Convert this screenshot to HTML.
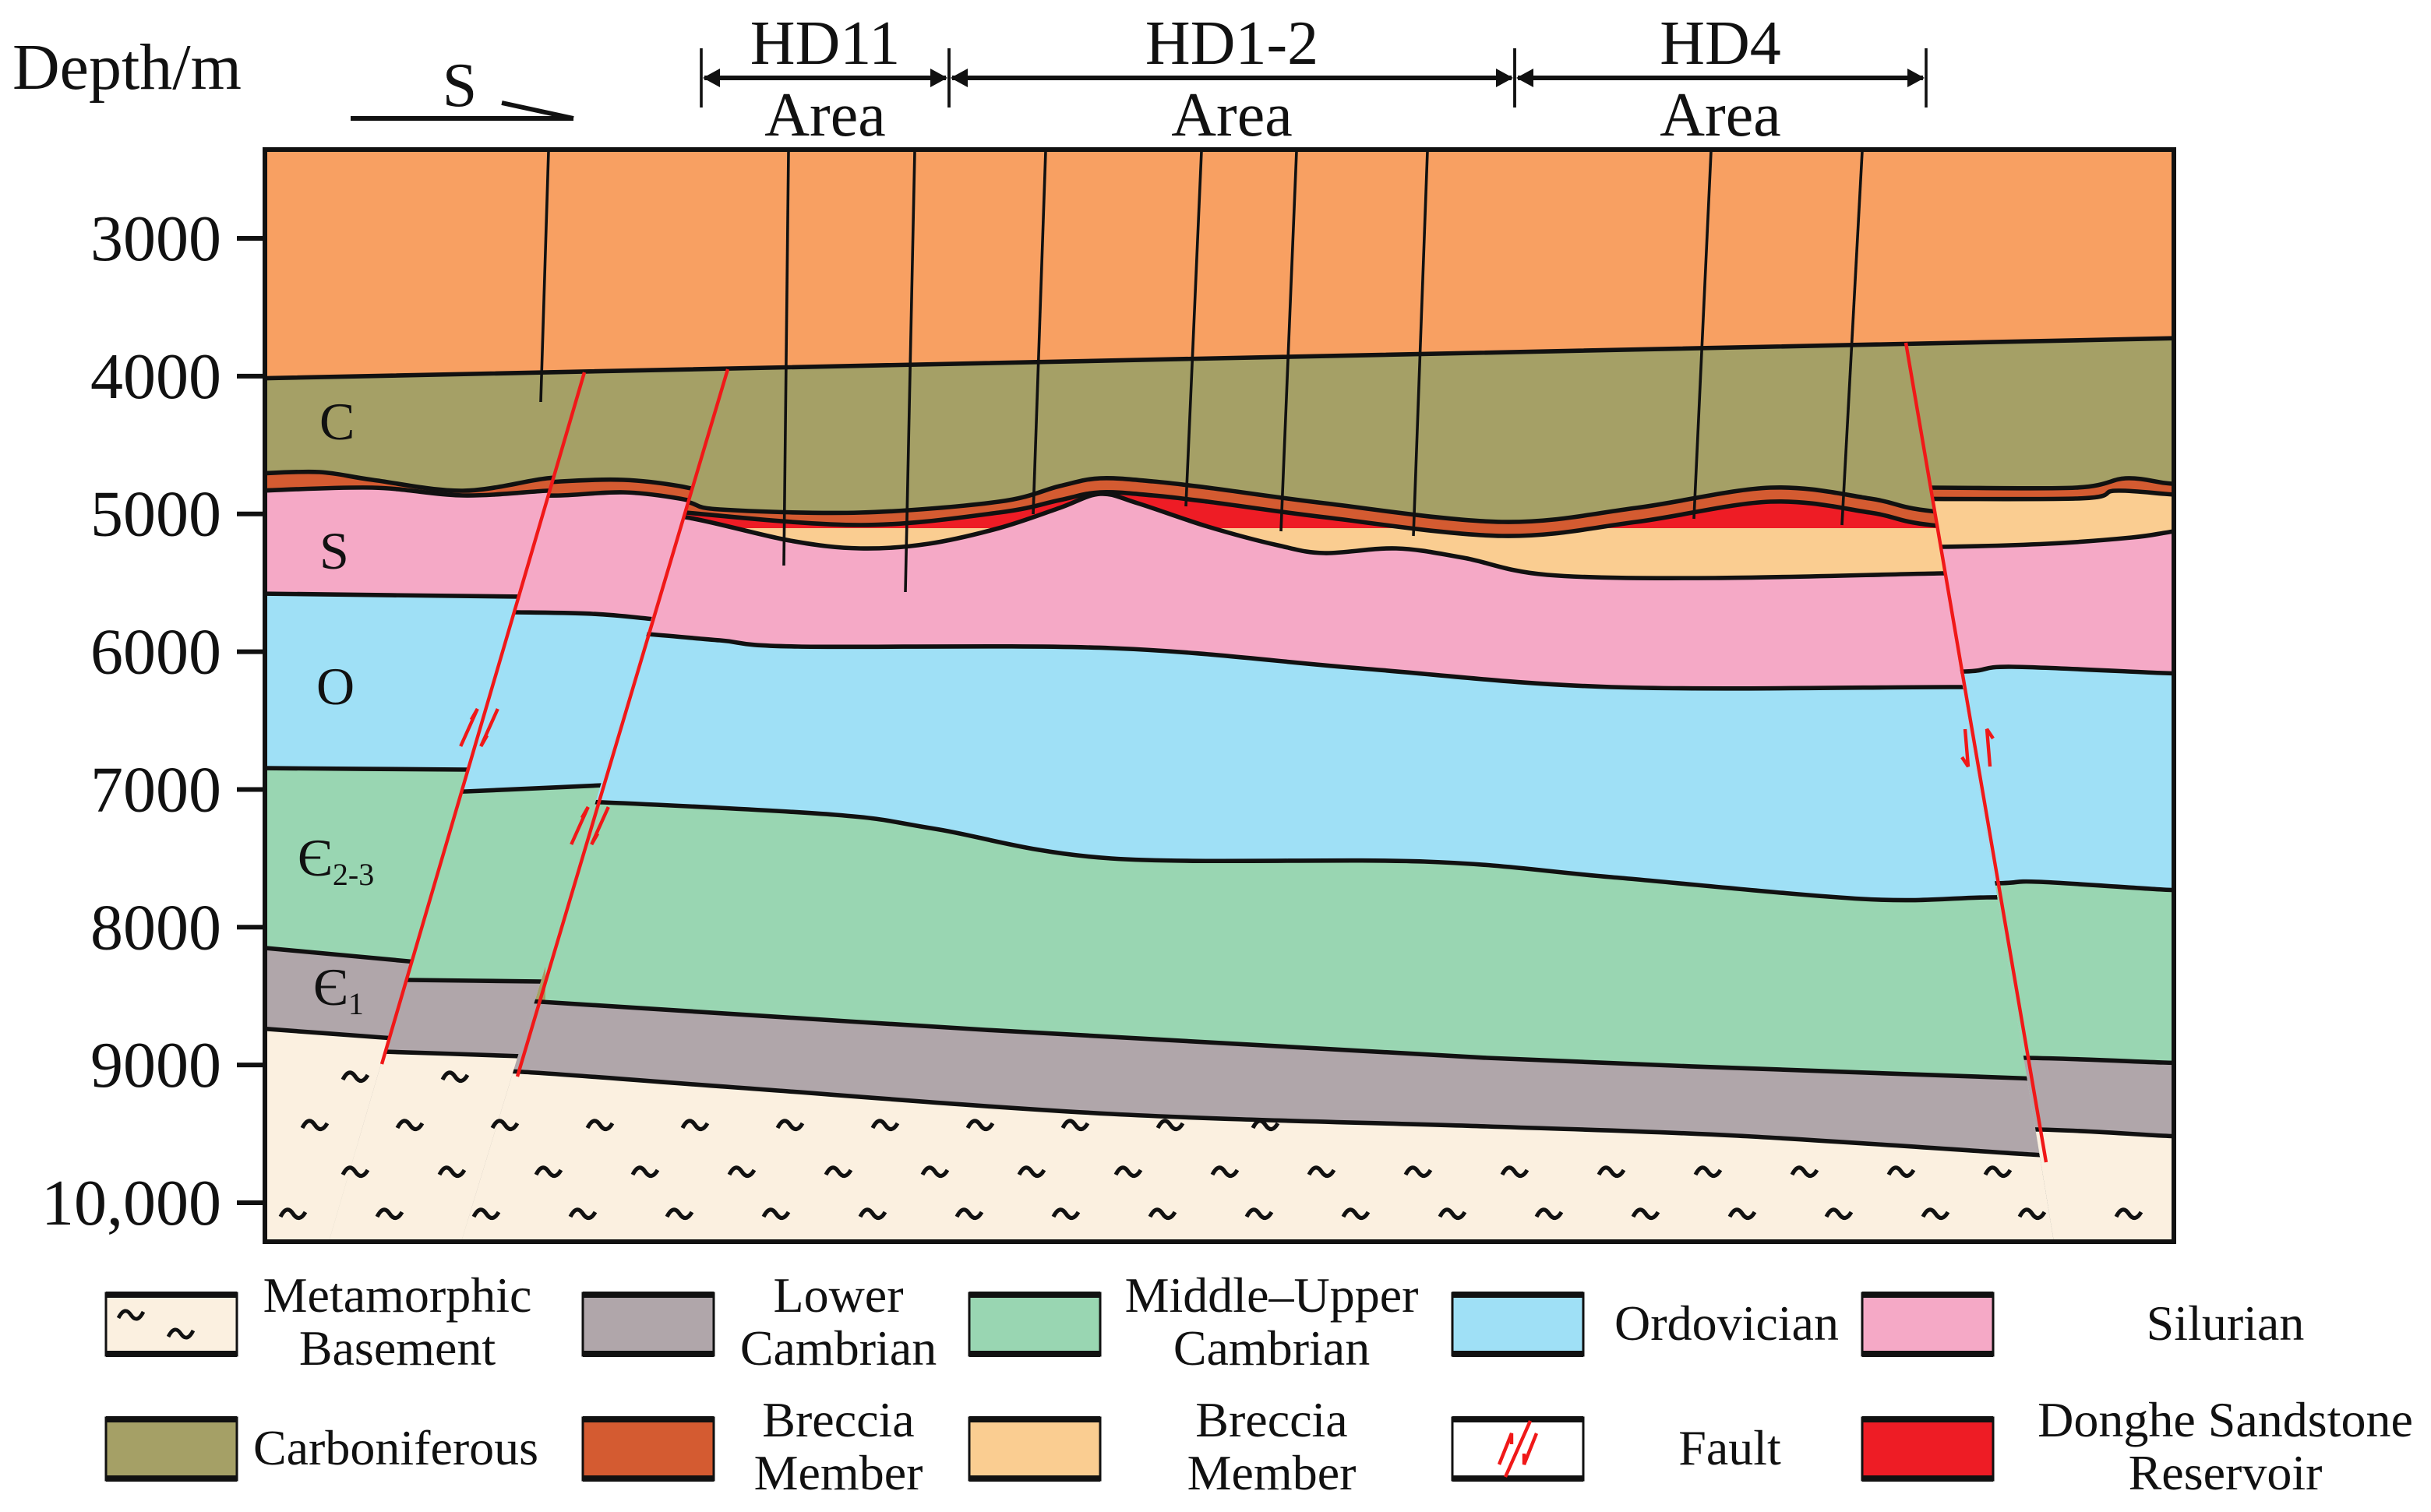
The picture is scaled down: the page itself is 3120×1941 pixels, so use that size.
<!DOCTYPE html>
<html><head><meta charset="utf-8"><style>
html,body{margin:0;padding:0;background:#fff;}
svg{display:block;}
text{font-family:"Liberation Serif",serif;fill:#111;}
</style></head><body>
<svg id="fig" width="3120" height="1941" viewBox="0 0 1560 970.5" xmlns="http://www.w3.org/2000/svg">
<defs>
<clipPath id="frameClip"><rect x="170" y="96" width="1225" height="701"/></clipPath>
<clipPath id="clipL"><polygon points="170,96 417,96 211,797 170,797"/></clipPath>
<clipPath id="clipM"><polygon points="417,96 510,96 296,797 211,797"/></clipPath>
<clipPath id="clipMain"><polygon points="510,96 1203,96 1318,797 296,797"/></clipPath>
<clipPath id="clipR"><polygon points="1203,96 1395,96 1395,797 1318,797"/></clipPath>
<clipPath id="redClip"><rect x="0" y="0" width="1560" height="339"/></clipPath>
</defs>
<g id="layers" clip-path="url(#frameClip)"></g>
<g id="overlay"></g>
<rect x="170" y="96" width="1225" height="701" fill="none" stroke="#111" stroke-width="3"/>
<g id="axis"></g>
<text x="8" y="57" font-size="42">Depth/m</text>
<g>
<text x="295" y="68" font-size="40" text-anchor="middle">S</text>
<line x1="225" y1="76" x2="368" y2="76" stroke="#111" stroke-width="3"/>
<line x1="322" y1="66" x2="368" y2="76" stroke="#111" stroke-width="3"/>
</g>
<g id="areas"></g>
<g font-size="34">
<text x="205" y="282">C</text>
<text x="205" y="365">S</text>
<text x="203" y="452">O</text>
<text x="191" y="562">Є<tspan font-size="20" dy="6">2-3</tspan></text>
<text x="201" y="645">Є<tspan font-size="20" dy="6">1</tspan></text>
</g>
<g id="legend"></g>
</svg>
<script>
// depth axis
const depthTicks = [3000,4000,5000,6000,7000,8000,9000,10000];
const depthLabels = ["3000","4000","5000","6000","7000","8000","9000","10,000"];
// well tops x, bottoms x, bottom y (depth px)
const wellTopX = [352,506,587,671,771,832,916,1098,1195];
const wellBotX = [347,503,581,663,761,822,907,1087,1182];
const wellBotY = [258,363,380,330,325,341,344,333,337];
const areaNames = ["HD11","HD1-2","HD4"];
const areaStart = [450,609,972];
const areaEnd = [609,972,1236];

const NS="http://www.w3.org/2000/svg";
function yOf(d){ return 153 + (d-3000)*0.08843; }
function mk(tag, attrs, parent){ const e=document.createElementNS(NS,tag); for(const k in attrs) e.setAttribute(k,attrs[k]); if(parent) parent.appendChild(e); return e; }
function smooth(pts){
  let d="M"+pts[0][0]+","+pts[0][1];
  for(let i=0;i<pts.length-1;i++){
    const p0=pts[Math.max(0,i-1)],p1=pts[i],p2=pts[i+1],p3=pts[Math.min(pts.length-1,i+2)];
    const c1=[p1[0]+(p2[0]-p0[0])/6,p1[1]+(p2[1]-p0[1])/6];
    const c2=[p2[0]-(p3[0]-p1[0])/6,p2[1]-(p3[1]-p1[1])/6];
    d+=" C"+c1[0].toFixed(1)+","+c1[1].toFixed(1)+" "+c2[0].toFixed(1)+","+c2[1].toFixed(1)+" "+p2[0]+","+p2[1];
  }
  return d;
}
function fillBelow(pts){ const l=pts[pts.length-1], f=pts[0]; return smooth(pts)+" L"+l[0]+",820 L"+f[0]+",820 Z"; }

const COL = {orange:"#F8A062", olive:"#A5A066", brec:"#D45B31", tan:"#FACD91", red:"#EE1C25", pink:"#F5A9C6", blue:"#9FE0F6", green:"#99D6B2", grey:"#B0A6AA", cream:"#FBF0E0"};

const layers=document.getElementById('layers');
const bg=mk('rect',{x:170,y:96,width:1225,height:701,fill:COL.orange},layers);


const cTop=[[160,243],[1400,217]];

const blocks = {
 L:[
  ["c-base",[[165,304],[205,303],[239,308],[297,315],[351,307],[380,306]],COL.brec],
  ["breccia-base",[[165,315],[239,313],[297,318],[351,315],[380,314]],COL.pink],
  ["s-base",[[165,381],[335,383],[360,383]],COL.blue],
  ["o-base",[[165,493],[300,494],[320,494]],COL.green],
  ["e23-base",[[165,608],[262,617],[290,620]],COL.grey],
  ["e1-base",[[165,660],[246,666],[270,668]],COL.cream]],
 M:[
  ["c-base",[[330,312],[360,309],[400,308],[436,312],[470,320]],COL.brec],
  ["breccia-base",[[330,318],[360,318],[400,316],[436,320],[470,328]],COL.pink],
  ["s-base",[[290,393],[331,393],[380,394],[415,397],[440,400]],COL.blue],
  ["o-base",[[260,508],[299,508],[387,504],[410,504]],COL.green],
  ["e23-base",[[230,629],[262,629],[347,630],[380,630]],COL.grey],
  ["e1-base",[[200,675],[246,675],[335,678],[360,678]],COL.cream]],
 Main:[
  ["c-base",[[400,316],[440,322],[462,327],[552,329],[641,322],[680,312],[706,307],[740,309],[775,313],[850,323],[964,335],[1050,326],[1136,313],[1200,320],[1239,328],[1330,334]],COL.brec],
  ["breccia-base",[[400,324],[440,329],[552,337],[641,329],[680,321],[706,316],[740,318],[775,322],[850,332],[964,344],[1050,335],[1136,322],[1200,329],[1239,337],[1330,343]],COL.tan],
  ["s-top",[[400,330],[440,332],[507,347],[552,352],[596,349],[641,339],[680,326],[706,317],[730,323],[775,338],[820,350],[850,355],[896,352],[939,358],[993,369],[1100,371],[1246,368],[1330,367]],COL.pink],
  ["s-base",[[380,405],[415,407],[462,411],[512,415],[713,416],[873,429],[1034,441],[1251,441],[1330,441]],COL.blue],
  ["o-base",[[350,515],[387,515],[536,523],[600,532],[713,551],[914,553],[1034,563],[1195,577],[1275,576],[1330,576]],COL.green],
  ["e23-base",[[300,643],[347,643],[632,661],[954,679],[1295,692],[1330,693]],COL.grey],
  ["e1-base",[[290,688],[335,688],[472,698],[713,715],[954,723],[1115,729],[1303,741],[1330,742]],COL.cream]],
 R:[
  ["c-base",[[1190,313],[1239,313],[1332,313],[1364,307],[1389,310],[1400,311]],COL.brec],
  ["breccia-base",[[1190,320],[1332,320],[1357,315],[1389,317],[1400,318]],COL.tan],
  ["s-top",[[1190,351],[1246,351],[1314,349],[1368,345],[1389,342],[1400,340]],COL.pink],
  ["s-base",[[1190,431],[1261,431],[1291,428],[1388,432],[1400,432]],COL.blue],
  ["o-base",[[1190,567],[1279,567],[1308,566],[1388,571],[1400,571]],COL.green],
  ["e23-base",[[1190,679],[1300,679],[1388,682],[1400,682]],COL.grey],
  ["e1-base",[[1190,725],[1308,725],[1388,729],[1400,729]],COL.cream]]
};
const ct=mk('path',{d:fillBelow(cTop),fill:COL.olive},layers);


const clipIds={L:'clipL',M:'clipM',Main:'clipMain',R:'clipR'};
for(const b in blocks){
  const g=mk('g',{'clip-path':'url(#'+clipIds[b]+')'},layers);
  
  
  const arr=blocks[b];
  arr.forEach(([nm,pts,col])=>{
    const p=mk('path',{d:fillBelow(pts),fill:col},g);
    
    
    if(b==='Main' && nm==='breccia-base'){
      const r=mk('path',{d:fillBelow(pts),fill:COL.red,'clip-path':'url(#redClip)'},g);
      
      
    }
  });
  arr.forEach(([nm,pts])=>{
    const s=mk('path',{d:smooth(pts),fill:'none',stroke:'#111','stroke-width':2.8},g);
    
    
  });
}
const ctl=mk('path',{d:smooth(cTop),fill:'none',stroke:'#111','stroke-width':2.8},layers);



const sq=mk('g',{fill:'none',stroke:'#111','stroke-width':2.6},layers);


function squig(x,y){ mk('path',{d:`M${x-8},${y+2} Q${x-4},${y-6} ${x},${y} T${x+8},${y-1}`},sq); }
[228,292].forEach(x=>squig(x,691));
for(let x=202;x<=815;x+=61) squig(x,722);
for(let x=228;x<=1342;x+=62) squig(x,752);
for(let x=188;x<=1385;x+=62) squig(x,779);

const ov=document.getElementById('overlay');
wellTopX.forEach((tx,i)=>{
  const l=mk('line',{x1:tx,y1:97,x2:wellBotX[i],y2:wellBotY[i],stroke:'#111','stroke-width':1.8},ov);
  
  
});
[[375,239,245,683],[467,237,332,691],[1223,220,1313,746]].forEach((f,i)=>{
  const l=mk('line',{x1:f[0],y1:f[1],x2:f[2],y2:f[3],stroke:'#F01818','stroke-width':2.2},ov);
  
  
});
function arrowPair(x,y,s){
  const g=mk('g',{stroke:'#F01818','stroke-width':2.2,fill:'none'},ov);
  
  
  mk('path',{d:`M${x-6-12*s},${y+12} L${x-6+12*s},${y-12} L${x-10+12*s},${y-5}`},g);
  mk('path',{d:`M${x+7+12*s},${y-12} L${x+7-12*s},${y+12} L${x+11-12*s},${y+5}`},g);
}
arrowPair(307,467,0.45);
arrowPair(378,530,0.45);
(function(){
  const g=mk('g',{stroke:'#F01818','stroke-width':2.2,fill:'none'},ov);
  
  
  mk('path',{d:'M1261,468 L1263,492 L1259,486'},g);
  mk('path',{d:'M1277,492 L1275,468 L1279,474'},g);
})();

const ax=document.getElementById('axis');
depthTicks.forEach((d,i)=>{
  const y=yOf(d);
  const t=mk('line',{x1:152,y1:y,x2:170,y2:y,stroke:'#111','stroke-width':3},ax);
  
  
  const tx=mk('text',{x:142,y:y+14,'font-size':42,'text-anchor':'end'},ax);
  tx.textContent=depthLabels[i];
  
  
});

const ar=document.getElementById('areas');
areaNames.forEach((n,i)=>{
  const g=mk('g',{},ar);
  
  
  const a=areaStart[i], b=areaEnd[i], y=50;
  mk('line',{x1:a+2,y1:y,x2:b-2,y2:y,stroke:'#111','stroke-width':3},g);
  mk('polygon',{points:`${a+1},${y} ${a+12},${y-6} ${a+12},${y+6}`,fill:'#111'},g);
  mk('polygon',{points:`${b-1},${y} ${b-12},${y-6} ${b-12},${y+6}`,fill:'#111'},g);
  mk('line',{x1:a,y1:31,x2:a,y2:69,stroke:'#111','stroke-width':1.8},g);
  mk('line',{x1:b,y1:31,x2:b,y2:69,stroke:'#111','stroke-width':1.8},g);
  const t1=mk('text',{x:(a+b)/2,y:41,'font-size':40,'text-anchor':'middle'},g); t1.textContent=n;
  const t2=mk('text',{x:(a+b)/2,y:87,'font-size':40,'text-anchor':'middle'},g); t2.textContent='Area';
});

const lg=document.getElementById('legend');
const legendItems=[
 [68,830,COL.cream,["Metamorphic","Basement"],255,"basement"],
 [374,830,COL.grey,["Lower","Cambrian"],538,"lower-cambrian"],
 [622,830,COL.green,["Middle–Upper","Cambrian"],816,"middle-upper-cambrian"],
 [932,830,COL.blue,["Ordovician"],1108,"ordovician"],
 [1195,830,COL.pink,["Silurian"],1428,"silurian"],
 [68,910,COL.olive,["Carboniferous"],254,"carboniferous"],
 [374,910,COL.brec,["Breccia","Member"],538,"breccia-member-1"],
 [622,910,COL.tan,["Breccia","Member"],816,"breccia-member-2"],
 [932,910,"#fff",["Fault"],1110,"fault"],
 [1195,910,COL.red,["Donghe Sandstone","Reservoir"],1428,"donghe-reservoir"]];
legendItems.forEach(([x,y,col,lines,cx,nm])=>{
  const g=mk('g',{},lg);
  
  
  mk('rect',{x:x,y:y,width:84,height:40,fill:col,stroke:'#111','stroke-width':1.5},g);
  mk('rect',{x:x,y:y-1,width:84,height:4,fill:'#111'},g);
  mk('rect',{x:x,y:y+37,width:84,height:4,fill:'#111'},g);
  if(nm==='basement'){
    const gg=mk('g',{fill:'none',stroke:'#111','stroke-width':2.4},g);
    mk('path',{d:`M${x+8},${y+16} Q${x+12},${y+8} ${x+16},${y+14} T${x+24},${y+12}`},gg);
    mk('path',{d:`M${x+40},${y+28} Q${x+44},${y+20} ${x+48},${y+26} T${x+56},${y+24}`},gg);
  }
  if(nm==='fault'){
    const gg=mk('g',{stroke:'#F01818','stroke-width':2.2,fill:'none'},g);
    mk('line',{x1:x+34,y1:y+38,x2:x+50,y2:y+2},gg);
    mk('path',{d:`M${x+30},${y+30} L${x+38},${y+10} L${x+38},${y+17}`},gg);
    mk('path',{d:`M${x+54},${y+10} L${x+46},${y+30} L${x+46},${y+23}`},gg);
  }
  if(lines.length===1){
    const t=mk('text',{x:cx,y:y+30,'font-size':32,'text-anchor':'middle'},g); t.textContent=lines[0];
  } else {
    const t=mk('text',{x:cx,y:y+12,'font-size':32,'text-anchor':'middle'},g); t.textContent=lines[0];
    const t2=mk('text',{x:cx,y:y+46,'font-size':32,'text-anchor':'middle'},g); t2.textContent=lines[1];
  }
});
</script>
</body></html>
